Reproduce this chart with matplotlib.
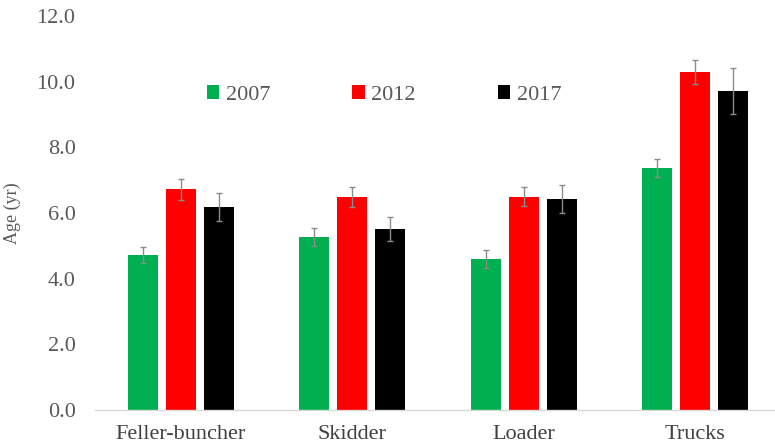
import numpy as np
import matplotlib.pyplot as plt

# Equipment age by machine type and survey year
machines = ['Feller-buncher', 'Skidder', 'Loader', 'Trucks']
years = ['2007', '2012', '2017']

age_2007 = [4.72, 5.28, 4.60, 7.37]
age_2012 = [6.72, 6.48, 6.50, 10.30]
age_2017 = [6.19, 5.52, 6.43, 9.72]

err_2007 = [0.25, 0.27, 0.26, 0.28]
err_2012 = [0.32, 0.30, 0.30, 0.37]
err_2017 = [0.42, 0.36, 0.43, 0.70]

colors = ['#00B050', '#FF0000', '#000000']

plt.rcParams['font.family'] = ['Liberation Serif', 'DejaVu Serif']

fig = plt.figure(figsize=(7.75, 4.48), dpi=100)
ax = fig.add_axes([95 / 775, 38 / 448, 1 - 95 / 775, 394 / 448])

x = np.arange(len(machines))
width = 0.174
pitch = 0.221

series = [age_2007, age_2012, age_2017]
errors = [err_2007, err_2012, err_2017]
for i, (vals, errs) in enumerate(zip(series, errors)):
    ax.bar(x + (i - 1) * pitch, vals, width, color=colors[i], label=years[i],
           yerr=errs, error_kw=dict(ecolor='#8c8c8c', elinewidth=1.0,
                                    capsize=2, capthick=1.0))

ax.set_xlim(-0.5, 3.465)
ax.set_ylim(0, 12)
ax.set_yticks(np.arange(0, 12.1, 2))
ax.set_yticklabels([f'{v:.1f}' for v in np.arange(0, 12.1, 2)])
ax.set_xticks(x)
ax.set_xticklabels(machines)

for s in ['top', 'right', 'left']:
    ax.spines[s].set_visible(False)
ax.spines['bottom'].set_color('#d9d9d9')
ax.spines['bottom'].set_linewidth(1.0)

ax.tick_params(axis='y', length=0, pad=14, labelsize=16, labelcolor='#595959')
# the reference cuts these labels at the bottom edge; keep them just inside
ax.tick_params(axis='x', length=0, pad=11, labelsize=16, labelcolor='#404040')

ax.set_ylabel('Age (yr)', fontsize=13, color='#595959', labelpad=11)

ax.legend(loc='upper left', bbox_to_anchor=(0.135, 0.875), ncol=3,
          frameon=False, fontsize=16, handlelength=0.55, handleheight=0.55,
          handletextpad=0.3, columnspacing=3.7, labelcolor='#595959')

fig.savefig('out.png', dpi=100)
